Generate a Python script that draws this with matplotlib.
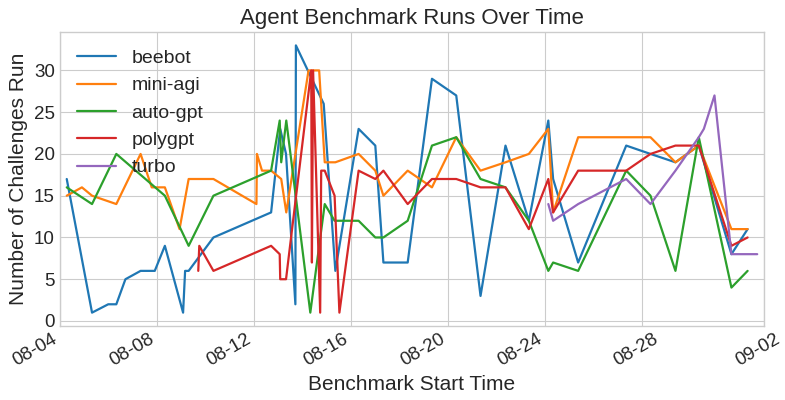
import matplotlib
matplotlib.use("Agg")
import matplotlib.pyplot as plt
import matplotlib.dates as mdates
import matplotlib.transforms as mtransforms
import pandas as pd

YEAR = "2023-"

beebot_t = ["08-04 07:00", "08-05 08:00", "08-06 00:00", "08-06 08:00", "08-06 17:00",
            "08-07 08:00", "08-07 22:00", "08-08 08:00", "08-09 02:00", "08-09 04:00",
            "08-09 07:30", "08-10 08:00", "08-12 17:00", "08-13 02:00", "08-13 07:45",
            "08-13 17:00", "08-13 17:30", "08-14 21:00", "08-15 08:30", "08-16 07:30",
            "08-17 00:00", "08-17 08:00", "08-18 08:00", "08-19 08:00", "08-20 08:00",
            "08-21 08:00", "08-22 08:40", "08-23 07:45", "08-24 03:00", "08-24 07:45",
            "08-25 08:30", "08-27 08:00", "08-28 08:00", "08-29 08:40", "08-30 07:45",
            "08-31 16:00", "09-01 08:00"]
beebot_v = [17, 1, 2, 2, 5, 6, 6, 9, 1, 6, 6, 10, 13, 23, 20, 2, 33, 26, 6, 23,
            21, 7, 7, 29, 27, 3, 21, 12, 24, 17, 7, 21, 20, 19, 21, 8, 11]

miniagi_t = ["08-04 07:00", "08-04 22:00", "08-05 08:00", "08-06 08:00", "08-07 08:00",
             "08-07 19:00", "08-08 08:00", "08-08 22:30", "08-09 07:30", "08-10 08:00",
             "08-12 02:30", "08-12 03:00", "08-12 08:00", "08-12 17:00", "08-13 03:00",
             "08-13 08:00", "08-14 06:00", "08-14 16:30", "08-14 22:00", "08-15 08:30",
             "08-16 07:30", "08-17 00:00", "08-17 08:00", "08-18 08:00", "08-19 08:00",
             "08-20 08:00", "08-21 08:00", "08-22 08:40", "08-23 07:45", "08-24 03:00",
             "08-24 07:45", "08-25 08:30", "08-27 08:00", "08-28 08:00", "08-29 08:40",
             "08-30 07:45", "08-31 16:00", "09-01 08:00"]
miniagi_v = [15, 16, 15, 14, 20, 16, 16, 11, 17, 17, 14, 20, 18, 18, 17, 13, 30, 30, 19, 19,
             20, 18, 15, 18, 16, 22, 18, 19, 20, 23, 13, 22, 22, 22, 19, 21, 11, 11]

autogpt_t = ["08-04 07:00", "08-05 08:00", "08-06 08:00", "08-08 08:00", "08-09 07:30",
             "08-10 08:00", "08-12 17:00", "08-13 01:30", "08-13 03:00", "08-13 08:00",
             "08-14 07:45", "08-14 22:00", "08-15 07:45", "08-16 07:30", "08-17 00:00",
             "08-17 08:00", "08-18 08:00", "08-19 08:00", "08-20 08:00", "08-21 08:00",
             "08-22 08:40", "08-23 07:45", "08-24 03:00", "08-24 07:45", "08-25 08:30",
             "08-27 08:00", "08-28 08:00", "08-29 08:40", "08-30 07:45", "08-31 16:00",
             "09-01 08:00"]
autogpt_v = [16, 14, 20, 15, 9, 15, 18, 24, 19, 24, 1, 14, 12, 12, 10, 10, 12, 21, 22, 17,
             16, 12, 6, 7, 6, 18, 15, 6, 22, 4, 6]

polygpt_t = ["08-09 17:00", "08-09 18:00", "08-10 08:00", "08-12 17:00", "08-13 01:30",
             "08-13 02:00", "08-13 07:45", "08-14 08:40", "08-14 09:20", "08-14 10:30",
             "08-14 17:30", "08-14 18:30", "08-14 22:00", "08-15 07:45", "08-15 12:30",
             "08-16 07:30", "08-17 00:00", "08-17 08:00", "08-18 08:00", "08-19 08:00",
             "08-20 08:00", "08-21 08:00", "08-22 08:40", "08-23 07:45", "08-24 03:00",
             "08-24 07:45", "08-25 08:30", "08-27 08:00", "08-28 08:00", "08-29 08:40",
             "08-30 07:45", "08-31 16:00", "09-01 08:00"]
polygpt_v = [6, 9, 6, 9, 8, 5, 5, 30, 7, 30, 1, 18, 18, 15, 1, 18, 17, 18, 14, 17,
             17, 16, 16, 11, 17, 13, 18, 18, 20, 21, 21, 9, 10]

turbo_t = ["08-24 03:00", "08-24 07:45", "08-25 08:30", "08-27 08:00", "08-28 08:00",
           "08-29 08:40", "08-30 07:45", "08-30 12:45", "08-30 23:15", "08-31 16:00",
           "09-01 17:30"]
turbo_v = [14, 12, 14, 17, 14, 18, 22, 23, 27, 8, 8]

series = [
    ("beebot", beebot_t, beebot_v),
    ("mini-agi", miniagi_t, miniagi_v),
    ("auto-gpt", autogpt_t, autogpt_v),
    ("polygpt", polygpt_t, polygpt_v),
    ("turbo", turbo_t, turbo_v),
]

tick_days = ["08-04", "08-08", "08-12", "08-16", "08-20", "08-24", "08-28", "09-02"]


def to_dt(strs):
    return pd.to_datetime([YEAR + s for s in strs])


plt.style.use("seaborn-v0_8-whitegrid")
plt.rcParams["font.family"] = ["Liberation Sans", "DejaVu Sans"]

fig, ax = plt.subplots(figsize=(7.85, 4.0), dpi=100)
fig.subplots_adjust(left=0.076, right=0.973, top=0.92, bottom=0.185)

for name, t, v in series:
    ax.plot(to_dt(t), v, label=name, lw=1.6)

ax.set_xlim(to_dt(["08-04 00:00"])[0], to_dt(["09-02 00:00"])[0])
ax.set_xticks(to_dt(tick_days))
ax.xaxis.set_major_formatter(mdates.DateFormatter("%m-%d"))
ax.set_yticks([0, 5, 10, 15, 20, 25, 30])

ax.tick_params(axis="both", labelsize=13.5)
# last two labels sit a bit to the right of their ticks in the original
shift = mtransforms.ScaledTranslation(0.19, 0, fig.dpi_scale_trans)
for i, lab in enumerate(ax.get_xticklabels()):
    lab.set_rotation(30)
    lab.set_ha("right")
    if i >= 6:
        lab.set_transform(lab.get_transform() + shift)

ax.set_title("Agent Benchmark Runs Over Time", fontsize=16)
ax.set_xlabel("Benchmark Start Time", fontsize=15)
ax.set_ylabel("Number of Challenges Run", fontsize=15)
ax.legend(loc="upper left", fontsize=14, frameon=False)

fig.savefig("out.png", dpi=100)
